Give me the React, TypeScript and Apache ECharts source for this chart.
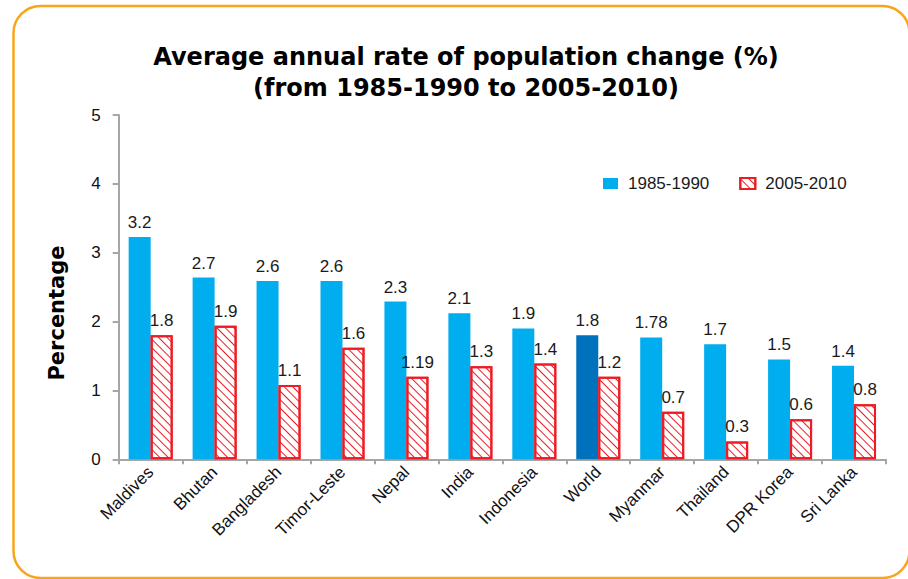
import React, { useEffect, useRef } from "react";
import * as echarts from "echarts";

const categories = [
  "Maldives", "Bhutan", "Bangladesh", "Timor-Leste", "Nepal", "India",
  "Indonesia", "World", "Myanmar", "Thailand", "DPR Korea", "Sri Lanka",
];
const series1985 = [3.23, 2.64, 2.59, 2.59, 2.29, 2.12, 1.9, 1.8, 1.77, 1.67, 1.45, 1.36];
const labels1985 = ["3.2", "2.7", "2.6", "2.6", "2.3", "2.1", "1.9", "1.8", "1.78", "1.7", "1.5", "1.4"];
const series2005 = [1.8, 1.94, 1.08, 1.62, 1.2, 1.35, 1.39, 1.2, 0.69, 0.26, 0.58, 0.8];
const labels2005 = ["1.8", "1.9", "1.1", "1.6", "1.19", "1.3", "1.4", "1.2", "0.7", "0.3", "0.6", "0.8"];
const legendNames = ["1985-1990", "2005-2010"];
const yTicks = [0, 1, 2, 3, 4, 5];
const highlightCategory = "World";

const BLUE = "#00ADEE";
const DARK_BLUE = "#0071BC";
const RED = "#ED1C24";
const AXIS = "#A6A6A6";
const FONT = "'Liberation Sans', Arial, sans-serif";
const BOLD_FONT = "'DejaVu Sans', Verdana, sans-serif";

export default function App() {
  const ref = useRef<HTMLDivElement>(null);
  useEffect(() => {
    if (!ref.current) return;
    const chart = echarts.init(ref.current, null, { renderer: "svg" });
    chart.setOption({
      animation: false,
      backgroundColor: "#fff",
      title: {
        text: "Average annual rate of population change (%)\n(from 1985-1990 to 2005-2010)",
        left: 466,
        top: 41,
        padding: 0,
        textAlign: "center",
        textStyle: {
          fontFamily: BOLD_FONT,
          fontWeight: "bold",
          fontSize: 24,
          lineHeight: 31,
          color: "#000",
        },
      },
      legend: {
        data: legendNames,
        left: 603,
        top: 175,
        padding: 0,
        itemWidth: 15,
        itemHeight: 11,
        itemGap: 30,
        icon: "rect",
        textStyle: {
          fontFamily: FONT,
          fontSize: 17,
          color: "#1a1a1a",
          padding: [0, 0, 0, 5],
        },
      },
      grid: { left: 118.7, right: 22, top: 115, bottom: 119.7, containLabel: false },
      xAxis: {
        type: "category",
        data: categories,
        axisLine: { lineStyle: { color: AXIS, width: 2 } },
        axisTick: { show: true, length: 5, lineStyle: { color: AXIS, width: 2 } },
        axisLabel: {
          rotate: 45,
          interval: 0,
          margin: 10,
          fontFamily: FONT,
          fontSize: 17,
          color: "#111",
        },
      },
      yAxis: {
        type: "value",
        min: yTicks[0],
        max: yTicks[yTicks.length - 1],
        interval: 1,
        splitLine: { show: false },
        axisLine: { show: true, lineStyle: { color: AXIS, width: 2 } },
        axisTick: { show: true, length: 6, lineStyle: { color: AXIS, width: 2 } },
        axisLabel: {
          margin: 18,
          fontFamily: FONT,
          fontSize: 17,
          color: "#111",
        },
      },
      graphic: [
        {
          type: "rect",
          shape: { x: 13.5, y: 6, width: 896, height: 572, r: 27 },
          style: { fill: "none", stroke: "#F8A51C", lineWidth: 2.5 },
          silent: true,
        },
        {
          type: "text",
          x: 57,
          y: 313,
          rotation: Math.PI / 2,
          style: {
            text: "Percentage",
            fontFamily: BOLD_FONT,
            fontWeight: "bold",
            fontSize: 21,
            fill: "#000",
            align: "center",
            verticalAlign: "middle",
          },
        },
      ],
      series: [
        {
          name: legendNames[0],
          type: "bar",
          barWidth: 22,
          barGap: "0%",
          itemStyle: { color: BLUE },
          data: series1985.map((v, i) =>
            categories[i] === highlightCategory
              ? { value: v, itemStyle: { color: DARK_BLUE } }
              : v
          ),
          label: {
            show: true,
            position: "top",
            distance: 6,
            fontFamily: FONT,
            fontSize: 17,
            color: "#1a1a1a",
            formatter: (p: any) => labels1985[p.dataIndex],
          },
        },
        {
          name: legendNames[1],
          type: "bar",
          barWidth: 22,
          barGap: "0%",
          itemStyle: {
            color: "#fff",
            borderColor: RED,
            borderWidth: 2,
            decal: {
              symbol: "rect",
              symbolSize: 1,
              color: RED,
              dashArrayX: [1, 0],
              dashArrayY: [1, 4.6],
              rotation: Math.PI / 4,
            },
          },
          data: series2005,
          label: {
            show: true,
            position: "top",
            distance: 6,
            fontFamily: FONT,
            fontSize: 17,
            color: "#1a1a1a",
            formatter: (p: any) => labels2005[p.dataIndex],
          },
        },
      ],
    });
    return () => chart.dispose();
  }, []);
  return (
    <div
      ref={ref}
      style={{ position: "absolute", left: 0, top: 0, width: 908, height: 579 }}
    />
  );
}
